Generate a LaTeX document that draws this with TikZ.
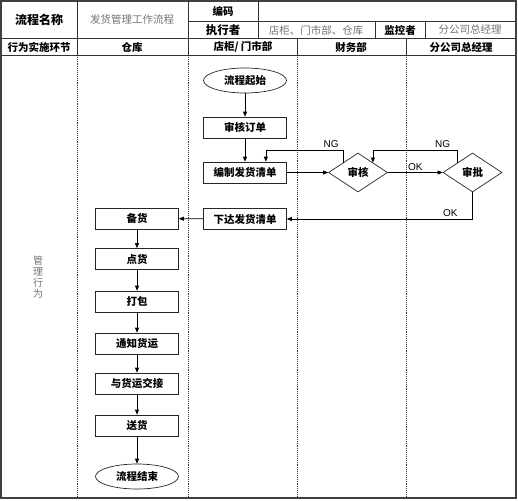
\documentclass[tikz,border=0pt]{standalone}
\usepackage{fontspec}
\setmainfont{Noto Sans CJK SC}
\newfontfamily\latinf{Liberation Sans}
\usetikzlibrary{shapes.geometric,arrows.meta,positioning}

\tikzset{
  gridline/.style={line width=0.6pt, black!80},
  laneline/.style={densely dotted, line width=0.9pt, black!80},
  hdr/.style={font=\bfseries\fontsize{10.5}{12}\selectfont},
  val/.style={text=black!55, font=\fontsize{10.5}{12}\selectfont},
  procbox/.style={draw=black!85, line width=0.7pt, minimum width=83pt, minimum height=21pt, inner sep=0pt, font=\bfseries\fontsize{10.5}{12}\selectfont},
  termbox/.style={ellipse, draw=black!85, line width=0.7pt, minimum width=83pt, minimum height=25pt, inner sep=0pt, font=\bfseries\fontsize{10.5}{12}\selectfont},
  decide/.style={diamond, draw=black!85, line width=0.7pt, minimum width=59pt, minimum height=39pt, inner sep=0pt, font=\bfseries\fontsize{10.5}{12}\selectfont},
  arr/.style={-{Triangle[length=5pt,width=4pt]}, line width=0.7pt},
  lbl/.style={font=\latinf\fontsize{10}{11}\selectfont, inner sep=2pt},
}

\begin{document}
\begin{tikzpicture}[x=1pt,y=-1pt]
\useasboundingbox (0,0) rectangle (518,500);
% Header grid
\draw[gridline] (188,21.5) -- (516,21.5);
\draw[gridline] (1,38) -- (516,38);
\draw[gridline] (1,55) -- (516,55);
\draw[gridline] (77,1) -- (77,55);
\draw[gridline] (188,1) -- (188,55);
\draw[gridline] (258,1) -- (258,38);
\draw[gridline] (375,21.5) -- (375,38);
\draw[gridline] (425,21.5) -- (425,38);
\draw[gridline] (297,38) -- (297,55);
\draw[gridline] (406,38) -- (406,55);
% Swim lanes
\foreach \lx in {77,188,297,406}
  \draw[laneline] (\lx,55) -- (\lx,498);
% Outer frame
\draw[line width=2pt, black!75] (1,1) rectangle (516,498);

% Header texts
\node[hdr, font=\bfseries\fontsize{12}{14}\selectfont] (lcmc) at (39,20) {流程名称};
\node[val] (lcnm) at (132,20) {发货管理工作流程};
\node[hdr] (bm) at (223,11.5) {编码};
\node[hdr, font=\bfseries\fontsize{11.5}{13}\selectfont] (zxz) at (223,30) {执行者};
\node[val] (zxnm) at (316,30) {店柜、门市部、仓库};
\node[hdr] (jkz) at (400,30) {监控者};
\node[val] (jknm) at (470,30) {分公司总经理};
% Lane titles
\node[hdr] (hwss) at (39,47) {行为实施环节};
\node[hdr] (ck) at (132,47) {仓库};
\node[hdr] (dgms) at (243,47) {店柜/ 门市部};
\node[hdr] (cwb) at (351,47) {财务部};
\node[hdr] (zjl) at (461,47) {分公司总经理};
\node[val, align=center, font=\fontsize{10}{11}\selectfont] (glxw) at (38,277) {管\\理\\行\\为};

% Store lane
\node[termbox] (start) at (245,80.5) {流程起始};
\node[procbox] (shdd) at (245,127.5) {审核订单};
\node[procbox] (bzqd) at (245,172.5) {编制发货清单};
\node[procbox] (xdqd) at (245,219) {下达发货清单};
% Finance / manager
\node[decide] (sh) at (358,172.5) {审核};
\node[decide] (sp) at (472.5,172.5) {审批};
% Warehouse lane
\node[procbox] (bh) at (137,218.5) {备货};
\node[procbox] (dh) at (137,259) {点货};
\node[procbox] (db) at (137,301.5) {打包};
\node[procbox] (tz) at (137,343.5) {通知货运};
\node[procbox] (jj) at (137,383.5) {与货运交接};
\node[procbox] (sd) at (137,425.5) {送货};
\node[termbox] (end) at (137,476.5) {流程结束};

% Arrows
\draw[arr] (start) -- (shdd);
\draw[arr] (shdd) -- (bzqd);
\draw[arr] (bzqd) -- (sh);
\draw[arr] (sh) -- node[lbl, above] {OK} (sp);
\draw[arr] (sh.north west) -- ++(0,-12.5) node[lbl, above left, xshift=-2pt] {NG} -| ([xshift=-21pt]bzqd.north east);
\draw[arr] (sp.north west) -- ++(0,-12.5) node[lbl, above left, xshift=-5pt] {NG} -| (sh.north east);
\draw[arr] (sp.south) |- node[lbl, pos=0.56, above] {OK} (xdqd.east);
\draw[arr] (xdqd) -- (bh);
\draw[arr] (bh) -- (dh);
\draw[arr] (dh) -- (db);
\draw[arr] (db) -- (tz);
\draw[arr] (tz) -- (jj);
\draw[arr] (jj) -- (sd);
\draw[arr] (sd) -- (end);
\end{tikzpicture}
\end{document}
